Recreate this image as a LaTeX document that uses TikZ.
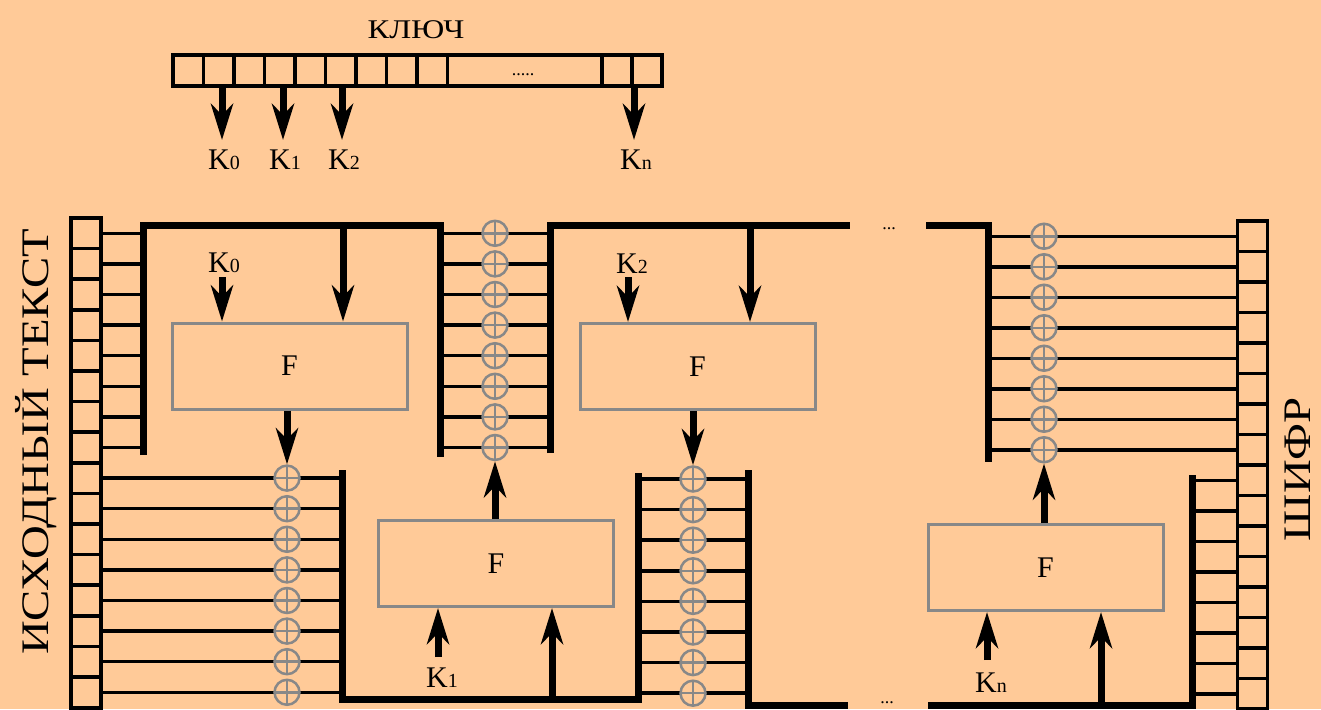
\documentclass[tikz,border=0pt]{standalone}
\usepackage{fontspec}
\setmainfont{Liberation Serif}
\newfontfamily\cyrfont[FakeStretch=1.2]{Liberation Serif}
\usetikzlibrary{arrows.meta}
\definecolor{bg}{RGB}{255,202,152}
\definecolor{gr}{RGB}{136,136,136}
\newcommand\ksub[1]{{\fontsize{20}{20}\selectfont #1}}
\begin{document}
\begin{tikzpicture}[x=1pt,y=-1pt,
  wire/.style={line width=3.5pt},
  bus/.style={line width=7pt,line join=miter},
  reg/.style={line width=3.5pt},
  arr/.style={line width=7pt,-{Stealth[length=36pt,width=22pt,inset=11pt]}},
  fbox/.style={draw=gr,line width=3pt,minimum width=235pt,minimum height=86pt,inner sep=0pt,font=\fontsize{30}{30}\selectfont},
  xor/.style={circle,draw=gr,fill=bg,line width=2.5pt,minimum size=25pt,inner sep=0pt,
    path picture={\draw[gr,line width=2.5pt] (path picture bounding box.north) -- (path picture bounding box.south) (path picture bounding box.west) -- (path picture bounding box.east);}},
  klab/.style={inner sep=0pt,font=\fontsize{30}{30}\selectfont},
  cyr/.style={inner sep=0pt,font=\cyrfont\fontsize{#1}{#1}\selectfont},
]
\useasboundingbox (0,0) rectangle (1321,709);
\fill[bg] (0,0) rectangle (1321,709);

% ---------- key register ----------
\node[cyr=27] (key) at (416,30) {КЛЮЧ};
\draw[reg] (173,55) rectangle (662,86);
\foreach \i in {1,...,9} \draw[reg] ({173+30.5*\i},55) -- ({173+30.5*\i},86);
\draw[reg] (602,55) -- (602,86);
\draw[reg] (632,55) -- (632,86);
\node[inner sep=0pt,font=\fontsize{18}{18}\selectfont] (kdots) at (523,75) {.....};
\foreach \n/\x/\d in {0/222/0,1/283/1,2/342/2,n/634/n}{
  \coordinate (ks\n) at (\x,87);
  \coordinate (ke\n) at (\x,140);
  \node[klab] (kl\n) at ({\x+2},160) {K\ksub{\d}};
  \draw[arr] (ks\n) -- (ke\n);
}

% ---------- side labels ----------
\node[cyr=39,rotate=90] (plain) at (36,442) {ИСХОДНЫЙ ТЕКСТ};
\node[cyr=39,rotate=90] (ciph) at (1298,469) {ШИФР};

% ---------- registers ----------
\draw[reg] (71,218) rectangle (101,708);
\foreach \i in {1,...,15} \draw[reg] (71,{218+30.6*\i}) -- (101,{218+30.6*\i});
\draw[reg] (1237.5,221) rectangle (1267.5,709);
\foreach \i in {1,...,15} \draw[reg] (1237.5,{221+30.5*\i}) -- (1267.5,{221+30.5*\i});

% ---------- F boxes ----------
\node[fbox] (f1) at (289.5,366) {F};
\node[fbox] (f2) at (496,563.5) {F};
\node[fbox] (f3) at (697.5,366.5) {F};
\node[fbox] (fn) at (1045.5,567.5) {F};

% ---------- wires and XORs ----------
\foreach \i in {0,...,7}{
  \draw[wire] (101,{233.3+30.6*\i}) -- (143,{233.3+30.6*\i});
  \draw[wire] (101,{478.1+30.6*\i}) -- (342,{478.1+30.6*\i});
  \node[xor] (xa\i) at (287,{478.1+30.6*\i}) {};
  \draw[wire] (440,{233.3+30.6*\i}) -- (550,{233.3+30.6*\i});
  \node[xor] (xb\i) at (495,{233.3+30.6*\i}) {};
  \draw[wire] (638,{479+30.6*\i}) -- (748,{479+30.6*\i});
  \node[xor] (xc\i) at (693,{479+30.6*\i}) {};
  \draw[wire] (988,{236.25+30.5*\i}) -- (1237.5,{236.25+30.5*\i});
  \node[xor] (xd\i) at (1044,{236.25+30.5*\i}) {};
  \draw[wire] (1192,{480.25+30.5*\i}) -- (1237.5,{480.25+30.5*\i});
}

% ---------- buses ----------
\draw[bus] (143,455) -- (143,225) -- (440,225) -- (440,457);
\draw[bus] (550,453) -- (550,225) -- (850,225);
\draw[bus] (926,225) -- (988,225) -- (988,462);
\draw[bus] (342,470) -- (342,699) -- (638,699) -- (638,473);
\draw[bus] (748,470) -- (748,705.5) -- (848,705.5);
\draw[bus] (928,705.5) -- (1192,705.5) -- (1192,475);
\node[inner sep=0pt,font=\fontsize{18}{18}\selectfont] (tdots) at (889,229) {...};
\node[inner sep=0pt,font=\fontsize{18}{18}\selectfont] (bdots) at (887,703) {...};

% ---------- bus taps into F ----------
\coordinate (t1) at (343,225);
\coordinate (t3) at (750,225);
\coordinate (t2) at (552,699);
\coordinate (tn) at (1101,705.5);
\draw[arr] (t1) -- (t1 |- f1.north);
\draw[arr] (t3) -- (t3 |- f3.north);
\draw[arr] (t2) -- (t2 |- f2.south);
\draw[arr] (tn) -- (tn |- fn.south);

% ---------- round keys ----------
\node[klab] (lk0) at (224,263) {K\ksub{0}};
\node[klab] (lk1) at (442,678) {K\ksub{1}};
\node[klab] (lk2) at (632,264) {K\ksub{2}};
\node[klab] (lkn) at (991,683) {K\ksub{n}};
\coordinate (k0in) at (222,277);
\coordinate (k1in) at (438,657);
\coordinate (k2in) at (628,277);
\coordinate (knin) at (987,660);
\draw[arr] (k0in) -- (k0in |- f1.north);
\draw[arr] (k2in) -- (k2in |- f3.north);
\draw[arr] (k1in) -- (k1in |- f2.south);
\draw[arr] (knin) -- (knin |- fn.south);

% ---------- F outputs into XORs ----------
\draw[arr] (xa0 |- f1.south) -- (xa0.north);
\draw[arr] (xb7 |- f2.north) -- (xb7.south);
\draw[arr] (xc0 |- f3.south) -- (xc0.north);
\draw[arr] (xd7 |- fn.north) -- (xd7.south);
\end{tikzpicture}
\end{document}
